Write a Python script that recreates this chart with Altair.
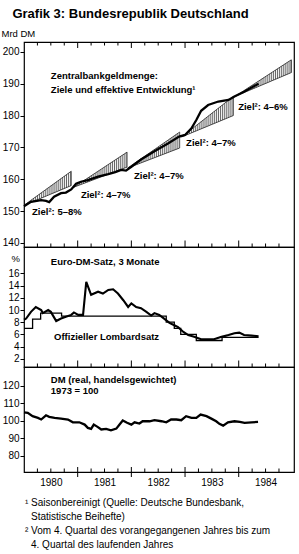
import altair as alt
import pandas as pd
import numpy as np

FONT = "Liberation Sans"

# ---------------- data (x in fractional years) ----------------
# Zentralbankgeldmenge (Mrd DM)
zbg_x = [1980.00, 1980.13, 1980.32, 1980.41, 1980.47, 1980.56, 1980.69, 1980.78, 1980.88,
         1980.97, 1981.06, 1981.19, 1981.38, 1981.57, 1981.70, 1981.81, 1981.90, 1982.00,
         1982.18, 1982.43, 1982.69, 1982.89, 1983.00, 1983.12, 1983.21, 1983.30, 1983.43,
         1983.62, 1983.81, 1983.92, 1984.10, 1984.24, 1984.37]
zbg_y = [151.5, 152.9, 153.4, 153.2, 152.8, 154.5, 155.6, 155.8, 156.8,
         158.6, 159.2, 159.7, 160.8, 161.6, 162.2, 162.9, 162.7, 163.9,
         166.2, 168.8, 171.3, 173.4, 173.9, 176.0, 178.6, 181.5, 183.3,
         184.4, 184.9, 186.0, 187.5, 188.8, 190.0]

# Target corridors: start, start level, end, lower end level, upper end level
corr_label = ["Ziel²: 5–8%", "Ziel²: 4–7%", "Ziel²: 4–7%", "Ziel²: 4–7%", "Ziel²: 4–6%"]
corr_x0 = [1980.00, 1980.93, 1981.93, 1982.94, 1983.93]
corr_s = [151.8, 157.5, 163.5, 173.3, 186.0]
corr_x1 = [1980.88, 1981.92, 1982.90, 1983.90, 1984.98]
corr_lo = [158.0, 163.8, 169.8, 180.0, 193.5]
corr_hi = [162.5, 168.5, 174.8, 186.0, 197.5]
corr_lab_x = [1980.15, 1981.06, 1982.05, 1983.02, 1983.99]
corr_lab_y = [149.7, 155.0, 161.0, 171.4, 182.7]

# Euro-DM-Satz, 3 Monate (%)
edm_x = [1980.00, 1980.04, 1980.13, 1980.22, 1980.32, 1980.35, 1980.45, 1980.50, 1980.60,
         1980.69, 1980.78, 1980.88, 1980.93, 1981.01, 1981.10, 1981.16, 1981.25, 1981.38,
         1981.47, 1981.57, 1981.66, 1981.75, 1981.85, 1981.94, 1982.00, 1982.09, 1982.18,
         1982.28, 1982.37, 1982.43, 1982.52, 1982.61, 1982.71, 1982.80, 1982.87, 1982.97,
         1983.06, 1983.17, 1983.30, 1983.43, 1983.54, 1983.68, 1983.81, 1983.92, 1984.01,
         1984.10, 1984.24, 1984.37]
edm_y = [8.4, 8.6, 9.7, 10.5, 10.0, 9.5, 10.0, 9.7, 8.2,
         8.6, 8.9, 9.2, 9.6, 9.2, 9.2, 14.6, 12.5, 13.0,
         12.7, 13.3, 13.4, 12.7, 11.6, 10.5, 11.1, 10.5, 10.3,
         9.7, 9.1, 9.5, 9.2, 8.6, 7.9, 7.5, 7.2, 6.4,
         5.9, 5.6, 5.2, 5.2, 5.2, 5.6, 5.9, 6.2, 6.3,
         5.9, 5.8, 5.7]

# Offizieller Lombardsatz (%)
lom_x = [1980.00, 1980.16, 1980.31, 1980.70, 1982.65, 1982.80, 1982.92, 1983.21, 1983.69, 1984.37]
lom_y = [7.0, 8.5, 9.5, 9.0, 8.0, 7.0, 6.0, 5.0, 5.5, 5.5]

# DM (real, handelsgewichtet), 1973 = 100
dm_x = [1980.00, 1980.07, 1980.16, 1980.26, 1980.32, 1980.41, 1980.47, 1980.57, 1980.69,
        1980.82, 1980.91, 1981.03, 1981.13, 1981.19, 1981.25, 1981.30, 1981.37, 1981.44,
        1981.53, 1981.62, 1981.72, 1981.78, 1981.84, 1981.92, 1982.00, 1982.06, 1982.15,
        1982.21, 1982.34, 1982.43, 1982.56, 1982.65, 1982.74, 1982.84, 1982.93, 1983.02,
        1983.12, 1983.21, 1983.29, 1983.40, 1983.49, 1983.58, 1983.64, 1983.71, 1983.80,
        1983.92, 1984.02, 1984.11, 1984.24, 1984.36]
dm_y = [104.7, 104.4, 102.5, 101.5, 100.6, 103.0, 102.1, 101.5, 101.1,
        100.6, 99.0, 99.0, 97.7, 95.8, 95.2, 97.7, 96.4, 94.9,
        95.2, 94.4, 95.4, 97.7, 100.0, 98.7, 97.7, 99.0, 98.3,
        99.6, 99.6, 100.2, 99.6, 99.0, 100.6, 100.6, 100.2, 102.5,
        101.5, 101.5, 103.4, 102.5, 101.1, 99.6, 98.1, 97.1, 99.0,
        99.6, 99.2, 98.7, 99.0, 99.2]

years = [1980, 1981, 1982, 1983, 1984, 1985]
year_labels_at = [1980.5, 1981.5, 1982.5, 1983.5, 1984.5]
quarters = [1980.25, 1980.5, 1980.75, 1981.25, 1981.5, 1981.75, 1982.25, 1982.5, 1982.75,
            1983.25, 1983.5, 1983.75, 1984.25, 1984.5, 1984.75]

top_ticks = [140, 150, 160, 170, 180, 190, 200]
mid_ticks = [2, 4, 6, 8, 10, 12, 14, 16]
bot_ticks = [80, 90, 100, 110, 120]

footnotes = [
    "¹ Saisonbereinigt (Quelle: Deutsche Bundesbank,",
    "Statistische Beihefte)",
    "² Vom 4. Quartal des vorangegangenen Jahres bis zum",
    "4. Quartal des laufenden Jahres",
]
footnote_indent = [False, True, False, True]

# ---------------- layout constants ----------------
W = 270
H_TOP, H_MID, H_BOT = 205, 120, 105
XDOM = [1980.0, 1985.03]

xscale = alt.Scale(domain=XDOM, nice=False, zero=False)


def X(field, axis=None):
    return alt.X(field, type="quantitative", scale=xscale, axis=axis)


def make_y(domain, ticks, title, title_x, title_y):
    sc = alt.Scale(domain=domain, nice=False, zero=False)
    ax = alt.Axis(values=ticks, tickSize=4, tickColor="black", tickWidth=1,
                  domain=False, grid=False, labelFont=FONT, labelFontSize=10,
                  labelColor="black", labelPadding=1, title=title, titleAngle=0,
                  titleAlign="left", titleBaseline="middle", titleX=title_x,
                  titleY=title_y, titleFont=FONT, titleFontSize=9.5,
                  titleFontWeight="normal", titleColor="black")

    def Y(field):
        return alt.Y(field, type="quantitative", scale=sc, axis=ax)
    return Y


def tick_layers(height, top=False):
    qdf = pd.DataFrame({"x": quarters})
    ydf = pd.DataFrame({"x": years[1:-1]})
    layers = [
        alt.Chart(qdf).mark_rule(color="black", strokeWidth=1).encode(
            x=X("x"), y=alt.value(height), y2=alt.value(height - 3.5)),
        alt.Chart(ydf).mark_rule(color="black", strokeWidth=1).encode(
            x=X("x"), y=alt.value(height), y2=alt.value(height - 6.5)),
    ]
    if top:
        layers += [
            alt.Chart(qdf).mark_rule(color="black", strokeWidth=1).encode(
                x=X("x"), y=alt.value(0), y2=alt.value(3.5)),
            alt.Chart(ydf).mark_rule(color="black", strokeWidth=1).encode(
                x=X("x"), y=alt.value(0), y2=alt.value(6)),
        ]
    return layers


def label(df_text, xv, yv, Y, size=9.5, weight="bold"):
    df = pd.DataFrame({"x": xv, "y": yv, "t": df_text})
    return alt.Chart(df).mark_text(align="left", baseline="middle", font=FONT,
                                   fontSize=size, fontWeight=weight, color="black").encode(
        x=X("x"), y=Y("y"), text="t:N")


# ---------------- top panel ----------------
Ytop = make_y([138.7, 203.1], top_ticks, "Mrd DM", -23, -9)

hatch_rows = []
outline_rows = []
for i in range(len(corr_x0)):
    xs = np.arange(corr_x0[i], corr_x1[i] + 1e-9, 0.036)
    for xv in xs:
        f = (xv - corr_x0[i]) / (corr_x1[i] - corr_x0[i])
        hatch_rows.append({"x": xv,
                           "lo": corr_s[i] + f * (corr_lo[i] - corr_s[i]),
                           "hi": corr_s[i] + f * (corr_hi[i] - corr_s[i])})
    pts = [(corr_x0[i], corr_s[i]), (corr_x1[i], corr_hi[i]),
           (corr_x1[i], corr_lo[i]), (corr_x0[i], corr_s[i])]
    for k, (a, b) in enumerate(pts):
        outline_rows.append({"c": i, "o": k, "x": a, "y": b})
hatch_df = pd.DataFrame(hatch_rows)
outline_df = pd.DataFrame(outline_rows)
zbg_df = pd.DataFrame({"x": zbg_x, "y": zbg_y})

top_layers = [
    alt.Chart(hatch_df).mark_rule(color="#333", strokeWidth=0.75).encode(
        x=X("x"), y=Ytop("lo"), y2="hi:Q"),
    alt.Chart(outline_df).mark_line(color="#222", strokeWidth=0.8).encode(
        x=X("x"), y=Ytop("y"), detail="c:N", order="o:Q"),
    alt.Chart(zbg_df).mark_line(color="black", strokeWidth=2.3).encode(
        x=X("x"), y=Ytop("y")),
    label(["Zentralbankgeldmenge:", "Ziele und effektive Entwicklung¹"],
          [1980.50, 1980.50], [192.45, 188.05], Ytop),
    label(corr_label, corr_lab_x, corr_lab_y, Ytop),
] + tick_layers(H_TOP, top=True)

top = alt.layer(*top_layers).properties(width=W, height=H_TOP)

# ---------------- middle panel ----------------
Ymid = make_y([0.66, 20.33], mid_ticks, "%", -13, 11)
edm_df = pd.DataFrame({"x": edm_x, "y": edm_y})
lom_df = pd.DataFrame({"x": lom_x, "y": lom_y})
mid_layers = [
    alt.Chart(lom_df).mark_line(color="black", strokeWidth=1.3, interpolate="step-after").encode(
        x=X("x"), y=Ymid("y")),
    alt.Chart(edm_df).mark_line(color="black", strokeWidth=2.1).encode(
        x=X("x"), y=Ymid("y")),
    label(["Euro-DM-Satz, 3 Monate"], [1980.50], [17.87], Ymid),
    label(["Offizieller Lombardsatz"], [1980.56], [5.57], Ymid),
] + tick_layers(H_MID)
mid = alt.layer(*mid_layers).properties(width=W, height=H_MID)

# ---------------- bottom panel ----------------
Ybot = make_y([70.6, 130.6], bot_ticks, None, 0, 0)
xaxis = alt.Axis(values=year_labels_at, labelExpr="floor(datum.value)", ticks=False,
                 domain=False, grid=False, labelFont=FONT, labelFontSize=10,
                 labelColor="black", labelPadding=5, labelFlush=False,
                 labelOverlap=False, title=None)


def XB(field):
    return alt.X(field, type="quantitative", scale=xscale, axis=xaxis)


dm_df = pd.DataFrame({"x": dm_x, "y": dm_y})
qdf = pd.DataFrame({"x": quarters})
ydf = pd.DataFrame({"x": years[1:-1]})
fn_layers = []
for i, line in enumerate(footnotes):
    fn_layers.append(
        alt.Chart(pd.DataFrame({"t": [line]})).mark_text(
            align="left", baseline="middle", font=FONT, fontSize=10, color="black").encode(
            x=alt.value(7 if footnote_indent[i] else 1),
            y=alt.value(H_BOT + 31 + 14 * i), text="t:N"))

bot_layers = [
    alt.Chart(dm_df).mark_line(color="black", strokeWidth=2.3).encode(
        x=XB("x"), y=Ybot("y")),
    alt.Chart(pd.DataFrame({"x": [1980.50, 1980.50], "y": [123.1, 116.9],
                            "t": ["DM (real, handelsgewichtet)", "1973 = 100"]})).mark_text(
        align="left", baseline="middle", font=FONT, fontSize=9.5, fontWeight="bold",
        color="black").encode(x=XB("x"), y=Ybot("y"), text="t:N"),
    alt.Chart(qdf).mark_rule(color="black", strokeWidth=1).encode(
        x=XB("x"), y=alt.value(H_BOT), y2=alt.value(H_BOT - 3.5)),
    alt.Chart(ydf).mark_rule(color="black", strokeWidth=1).encode(
        x=XB("x"), y=alt.value(H_BOT + 5), y2=alt.value(H_BOT - 5)),
] + fn_layers
bot = alt.layer(*bot_layers).properties(width=W, height=H_BOT)

chart = alt.vconcat(top, mid, bot, spacing=0, bounds="flush").properties(
    title=alt.TitleParams("Grafik 3: Bundesrepublik Deutschland", anchor="start",
                          font=FONT, fontSize=13, fontWeight="bold", color="black",
                          offset=6, dx=12),
    padding={"left": 0, "top": 8, "right": 0, "bottom": 0},
).configure_view(stroke="black", strokeWidth=1.2).configure_concat(spacing=0)

chart.save("out.html", embed_options={"renderer": "svg", "actions": False})
